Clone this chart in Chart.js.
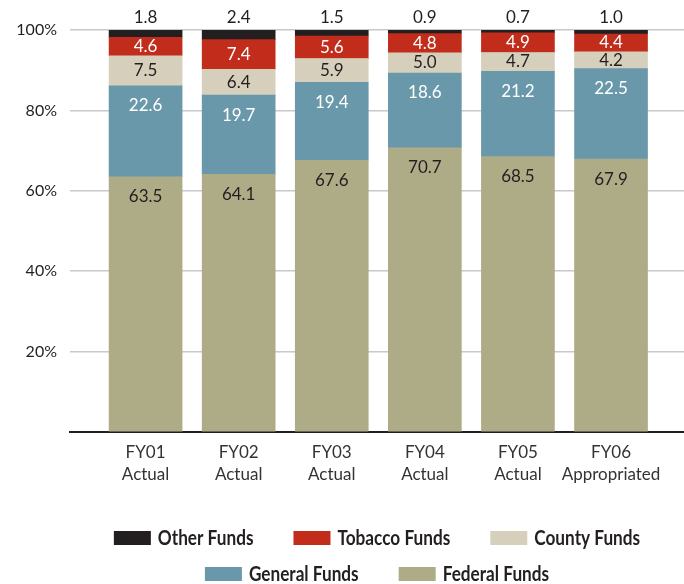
<!DOCTYPE html>
<html>
<head>
<meta charset="utf-8">
<script src="https://cdn.jsdelivr.net/npm/chart.js@4"></script>
<style>
  body { margin: 0; background: #fff; }
  #wrap { width: 684px; height: 584px; }
</style>
</head>
<body>
<div id="wrap"><canvas id="funds--canva" width="684" height="584"></canvas></div>
<script>
const categories = [
  ["FY01", "Actual"],
  ["FY02", "Actual"],
  ["FY03", "Actual"],
  ["FY04", "Actual"],
  ["FY05", "Actual"],
  ["FY06", "Appropriated"],
];
const federalFunds = [63.5, 64.1, 67.6, 70.7, 68.5, 67.9];
const generalFunds = [22.6, 19.7, 19.4, 18.6, 21.2, 22.5];
const countyFunds = [7.5, 6.4, 5.9, 5.0, 4.7, 4.2];
const tobaccoFunds = [4.6, 7.4, 5.6, 4.8, 4.9, 4.4];
const otherFunds = [1.8, 2.4, 1.5, 0.9, 0.7, 1.0];
const yTickValues = [0, 20, 40, 60, 80, 100];

const textFont = "Lato, 'Open Sans', sans-serif";
const legendFont = "Lato, sans-serif";
const legendSqueeze = 0.86;

const toPoints = (values) => values.map((y, idx) => ({ x: idx, y }));

// values printed on each segment
const segmentLabels = {
  id: "segmentLabels",
  afterDatasetsDraw(chart) {
    const ctx = chart.ctx;
    ctx.save();
    ctx.font = "17px " + textFont;
    ctx.textAlign = "center";
    ctx.textBaseline = "middle";
    chart.data.datasets.forEach((ds, di) => {
      const meta = chart.getDatasetMeta(di);
      meta.data.forEach((bar, idx) => {
        const text = ds.data[idx].y.toFixed(1);
        let y;
        if (ds.labelPlace === "above") y = bar.y - 12;
        else if (ds.labelPlace === "top") y = bar.y + 20;
        else y = (bar.y + bar.base) / 2;
        ctx.fillStyle = ds.labelColor;
        ctx.fillText(text, bar.x, y);
      });
    });
    ctx.restore();
  },
};

// two-row legend centred under the plot
const rowLegend = {
  id: "rowLegend",
  afterDraw(chart) {
    const ctx = chart.ctx;
    const area = chart.chartArea;
    const centerX = (area.left + area.right) / 2;
    const items = chart.data.datasets.slice().reverse();
    const rows = [items.slice(0, 3), items.slice(3)];
    const rowY = [538, 574];
    const boxW = 37, boxH = 14, gap = 7, spacing = 40;
    ctx.save();
    ctx.font = "bold 20px " + legendFont;
    ctx.textBaseline = "middle";
    ctx.textAlign = "left";
    rows.forEach((row, r) => {
      const textW = row.map((ds) => ctx.measureText(ds.label).width * legendSqueeze);
      const widths = textW.map((w) => boxW + gap + w);
      const total = widths.reduce((a, b) => a + b, 0) + spacing * (row.length - 1);
      let x = centerX - total / 2;
      row.forEach((ds, k) => {
        ctx.fillStyle = ds.backgroundColor;
        ctx.fillRect(x, rowY[r] - boxH / 2, boxW, boxH);
        ctx.fillStyle = "#231f20";
        ctx.save();
        ctx.translate(x + boxW + gap, rowY[r] + 1);
        ctx.scale(legendSqueeze, 1);
        ctx.fillText(ds.label, 0, 0);
        ctx.restore();
        x += widths[k] + spacing;
      });
    });
    ctx.restore();
  },
};

const ctx = document.querySelector("#funds--canva").getContext("2d");

new Chart(ctx, {
  type: "bar",
  data: {
    datasets: [
      {
        label: "Federal Funds",
        data: toPoints(federalFunds),
        backgroundColor: "#aeab87",
        labelColor: "#231f20",
        labelPlace: "top",
      },
      {
        label: "General Funds",
        data: toPoints(generalFunds),
        backgroundColor: "#6a98ab",
        labelColor: "#ffffff",
        labelPlace: "top",
      },
      {
        label: "County Funds",
        data: toPoints(countyFunds),
        backgroundColor: "#d5cfbc",
        labelColor: "#231f20",
        labelPlace: "middle",
      },
      {
        label: "Tobacco Funds",
        data: toPoints(tobaccoFunds),
        backgroundColor: "#c12c1b",
        labelColor: "#ffffff",
        labelPlace: "middle",
      },
      {
        label: "Other Funds",
        data: toPoints(otherFunds),
        backgroundColor: "#231f20",
        labelColor: "#231f20",
        labelPlace: "above",
      },
    ],
  },
  options: {
    responsive: false,
    animation: false,
    layout: { padding: { top: 30, left: 0, right: 0, bottom: 0 } },
    datasets: {
      bar: { barThickness: 73, borderWidth: 0 },
    },
    scales: {
      x: {
        type: "linear",
        stacked: true,
        offset: false,
        min: -0.812,
        max: 5.784,
        afterBuildTicks: (axis) => {
          axis.ticks = categories.map((_, idx) => ({ value: idx }));
        },
        afterFit: (axis) => {
          axis.height = 152;
        },
        grid: { display: false, drawTicks: false },
        border: { display: true, color: "#231f20", width: 2 },
        ticks: {
          autoSkip: false,
          maxRotation: 0,
          padding: 9,
          color: "#333333",
          font: { family: textFont, size: 17, lineHeight: 1.3 },
          callback: (value) => categories[value],
        },
      },
      y: {
        stacked: true,
        min: 0,
        max: 100,
        afterBuildTicks: (axis) => {
          axis.ticks = yTickValues.map((v) => ({ value: v }));
        },
        afterFit: (axis) => {
          axis.width = 70;
        },
        grid: {
          drawTicks: false,
          lineWidth: 1.5,
          color: (c) => (c.tick && c.tick.value === 0 ? "rgba(0,0,0,0)" : "#c8c8cd"),
        },
        border: { display: false },
        ticks: {
          padding: 13,
          color: "#231f20",
          font: { family: textFont, size: 16 },
          callback: (value) => (value === 0 ? "" : value + "%"),
        },
      },
    },
    plugins: {
      legend: { display: false },
      tooltip: { enabled: false },
    },
  },
  plugins: [segmentLabels, rowLegend],
});
</script>
</body>
</html>
